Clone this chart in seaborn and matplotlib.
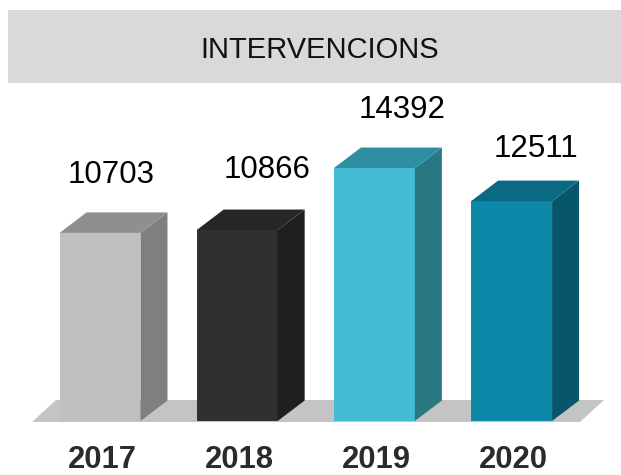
import matplotlib
matplotlib.use("Agg")
import matplotlib.pyplot as plt
from matplotlib.patches import Polygon, Rectangle
import seaborn as sns
import pandas as pd

# ---- data ----
years = ["2017", "2018", "2019", "2020"]
values = [10703, 10866, 14392, 12511]
title = "INTERVENCIONS"

# ---- styles ----
front_colors = ["#c0c0c0", "#303030", "#43bcd4", "#0d88a8"]
side_colors = ["#7f7f7f", "#1f1f1f", "#287882", "#07566a"]
top_colors = ["#8f8f8f", "#262626", "#2e8fa3", "#0a6a84"]
floor_color = "#c4c4c4"
band_color = "#d9d9d9"

sns.set_theme(style="white")
plt.rcParams["font.family"] = ["Liberation Sans", "DejaVu Sans"]

W, H, DPI = 621, 475, 100
fig = plt.figure(figsize=(W / DPI, H / DPI), dpi=DPI)
fig.patch.set_facecolor("white")
ax = fig.add_axes([0, 0, 1, 1])

df = pd.DataFrame({"year": years, "value": values})
sns.barplot(data=df, x="year", y="value", hue="year", palette=front_colors,
            saturation=1, width=0.59, linewidth=0, legend=False,
            errorbar=None, ax=ax, zorder=3)

# pixel <-> data mapping
px_per_x = 137.2
x0_px = 100.0
base_px = 421.0
units_per_px = 56.9
ax.set_xlim(-x0_px / px_per_x, (W - x0_px) / px_per_x)
ax.set_ylim(-(H - base_px) * units_per_px, base_px * units_per_px)
ax.axis("off")

def dx(px):
    return px / px_per_x

def dy(px):
    return px * units_per_px

depth_x, depth_y = dx(27), dy(20.5)

# floor
fl_left, fl_right = dx(32 - x0_px), dx(580 - x0_px)
fl_b, fl_t = dy(base_px - 422), dy(base_px - 400)
fl_off = dx(24)
ax.add_patch(Polygon([(fl_left, fl_b), (fl_right, fl_b),
                      (fl_right + fl_off, fl_t), (fl_left + fl_off, fl_t)],
                     closed=True, facecolor=floor_color, edgecolor="none",
                     zorder=1))

patches = sorted([p for p in ax.patches if isinstance(p, Rectangle)
                  and p.get_height() > 0], key=lambda p: p.get_x())
for i, p in enumerate(patches):
    x, w, h = p.get_x(), p.get_width(), p.get_height()
    # side face
    ax.add_patch(Polygon([(x + w, 0), (x + w + depth_x, depth_y),
                          (x + w + depth_x, h + depth_y), (x + w, h)],
                         closed=True, facecolor=side_colors[i],
                         edgecolor="none", zorder=3))
    # top face
    ax.add_patch(Polygon([(x, h), (x + w, h), (x + w + depth_x, h + depth_y),
                          (x + depth_x, h + depth_y)],
                         closed=True, facecolor=top_colors[i],
                         edgecolor="none", zorder=3))

# value labels
lab_dx = [0.08, 0.22, 0.20, 0.18]
lab_off_px = [50, 52, 50, 44]
for i, v in enumerate(values):
    ax.text(i + lab_dx[i], v + dy(lab_off_px[i]), f"{v}", ha="center",
            va="baseline", fontsize=22.5, color="#000000", zorder=5)

# year labels
for i, yr in enumerate(years):
    ax.text(i + dx(2), dy(base_px - 468), yr, ha="center", va="baseline",
            fontsize=22.3, fontweight="bold", color="#2b2b2b", zorder=5)

# title band
fig.patches.append(Rectangle((8 / W, (H - 83) / H), 1 - 8 / W, 73 / H,
                             transform=fig.transFigure, facecolor=band_color,
                             edgecolor="none", zorder=0))
fig.text(320 / W, (H - 58.3) / H, title, ha="center", va="baseline",
         fontsize=21, color="#111111")

fig.savefig("out.png", dpi=DPI)
